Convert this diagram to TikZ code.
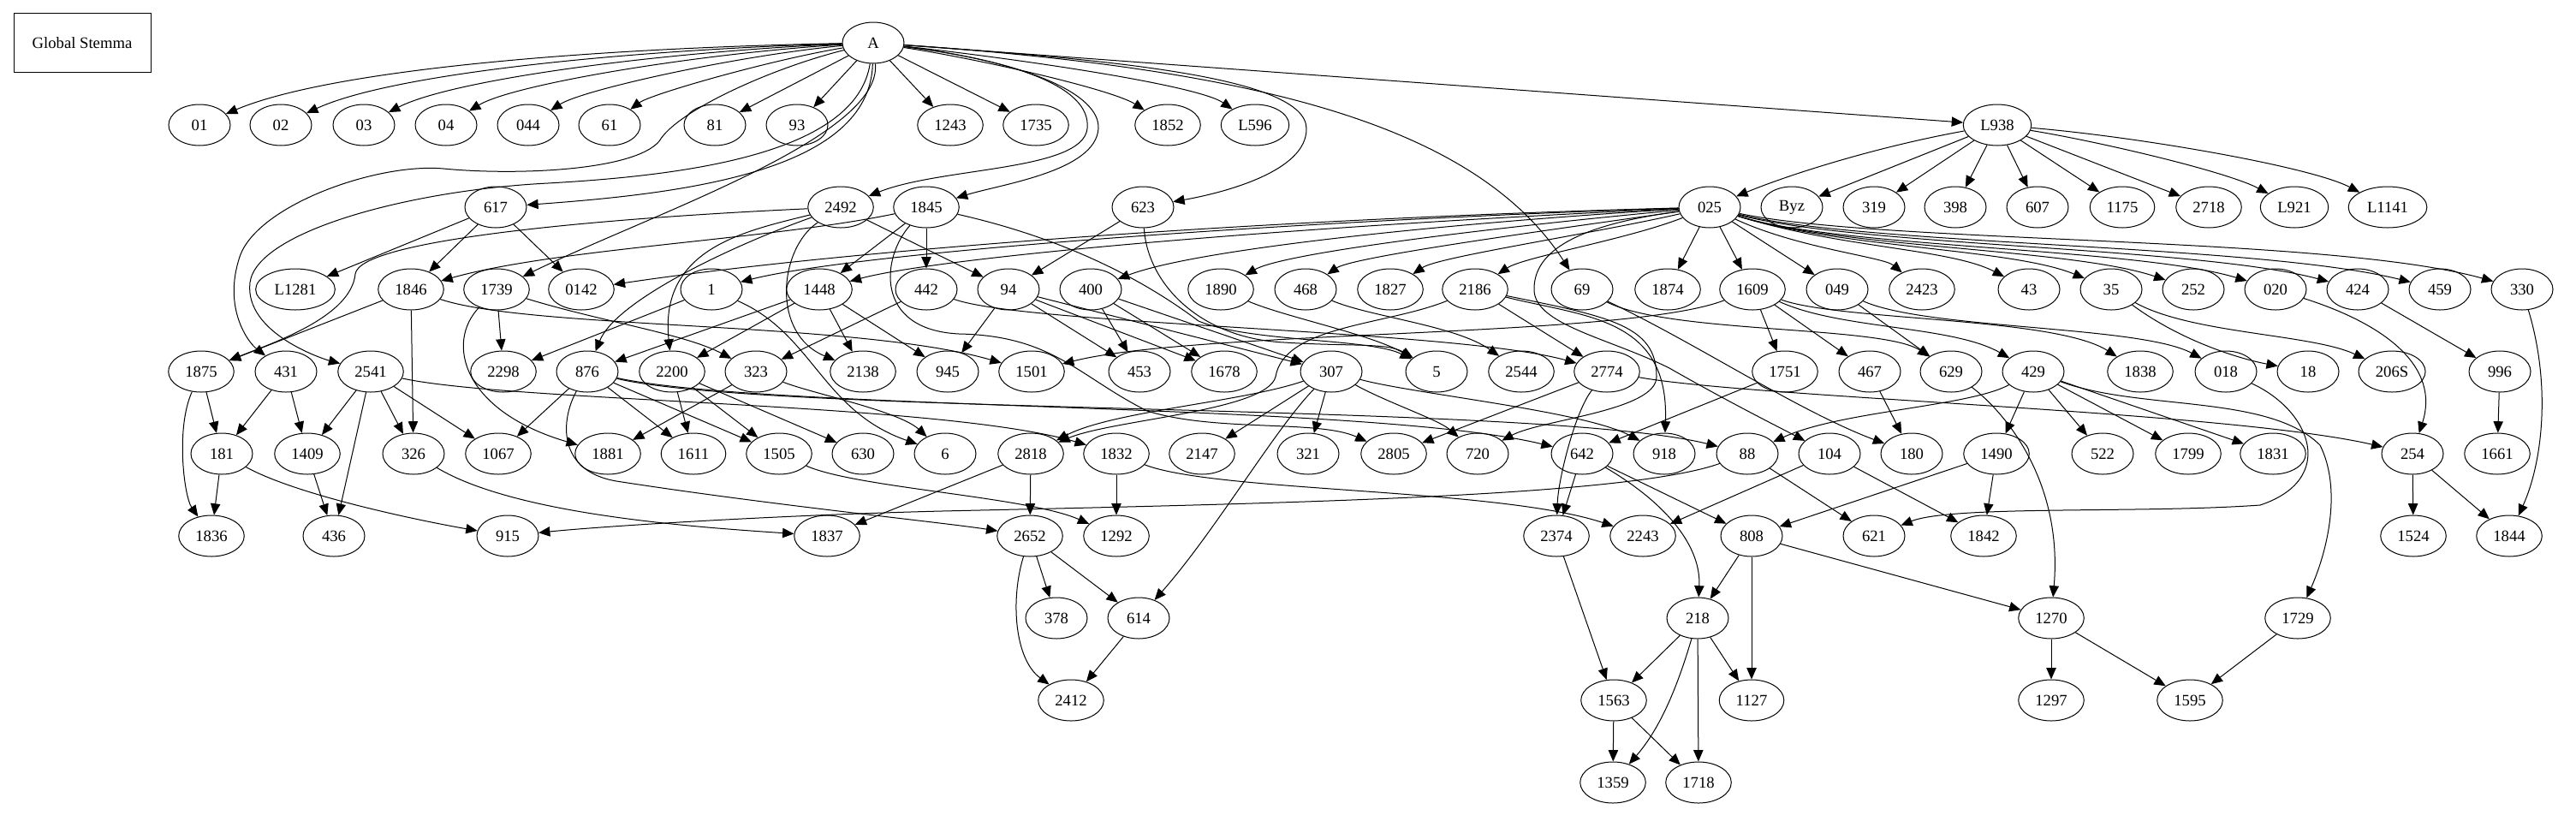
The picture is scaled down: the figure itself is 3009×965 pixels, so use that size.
\documentclass[tikz,border=0pt]{standalone}
\usepackage{fontspec}
\setmainfont{Liberation Serif}
\usetikzlibrary{shapes.geometric,arrows.meta}
\begin{document}
\begin{tikzpicture}[x=0.75pt,y=-0.75pt,
  n/.style={ellipse,draw,line width=0.75pt,minimum width=54pt,minimum height=36pt,inner xsep=6.3pt,inner ysep=2pt,font=\fontsize{14}{16}\selectfont},
  e/.style={line width=0.75pt,-{Triangle[length=10pt,width=8.5pt]}}]
\useasboundingbox (0,0) rectangle (3009,965);
\node[draw,rectangle,line width=0.75pt,minimum width=120pt,minimum height=52pt,font=\fontsize{14}{16}\selectfont] (gs) at (96,50) {Global Stemma};
% row 0
\node[n] (nA) at (1020,50) {A};
% row 1
\foreach \nm/\xx in {01/233,02/328,03/425,04/521,044/617,61/712,81/835,93/931,1243/1110,1735/1210,1852/1364,L596/1466,L938/2333}
  \node[n] (n\nm) at (\xx,146) {\nm};
% row 2
\foreach \nm/\xx in {617/579,2492/982,1845/1082,623/1335,025/1997,Byz/2093,319/2189,398/2284,607/2380,1175/2479,2718/2580,L921/2680,L1141/2789}
  \node[n] (n\nm) at (\xx,242) {\nm};
% row 3
\foreach \nm/\xx in {L1281/345,1846/480,1739/580,0142/679,1/831,1448/957,442/1082,94/1178,400/1274,1890/1426,468/1525,1827/1624,2186/1723,69/1848,1874/1948,1609/2047,049/2146,2423/2245,43/2370,35/2466,252/2562,020/2658,424/2754,459/2850,330/2946}
  \node[n] (n\nm) at (\xx,338) {\nm};
% row 4
\foreach \nm/\xx in {1875/235,431/334,2541/433,2298/588,876/686,2200/785,323/883,2138/1008,945/1107,1501/1205,453/1331,1678/1430,307/1555,5/1678,2544/1777,2774/1877,1751/2085,467/2184,629/2279,429/2375,1838/2500,018/2600,18/2696,206S/2794,996/2920}
  \node[n] (n\nm) at (\xx,434) {\nm};
% row 5
\foreach \nm/\xx in {181/259,1409/359,326/483,1067/582,1881/710,1611/810,1505/910,630/1008,6/1104,2818/1204,1832/1304,2147/1404,321/1528,2805/1628,720/1726,642/1848,918/1944,88/2041,104/2137,180/2233,1490/2332,522/2456,1799/2556,1831/2655,254/2818,1661/2917}
  \node[n] (n\nm) at (\xx,530) {\nm};
% row 6
\foreach \nm/\xx in {1836/247,436/390,915/593,1837/966,2652/1203,1292/1304,2374/1818,2243/1919,808/2046,621/2189,1842/2317,1524/2819,1844/2931}
  \node[n] (n\nm) at (\xx,626) {\nm};
% row 7
\foreach \nm/\xx in {378/1234,614/1330,218/1983,1270/2396,1729/2684}
  \node[n] (n\nm) at (\xx,722) {\nm};
% row 8
\foreach \nm/\xx in {2412/1251,1563/1885,1127/2046,1297/2396,1595/2558}
  \node[n] (n\nm) at (\xx,818) {\nm};
% row 9
\foreach \nm/\xx in {1359/1884,1718/1984}
  \node[n] (n\nm) at (\xx,914) {\nm};

% ---- edges from A
\draw[e] (nA) .. controls (700,56) and (390,80) .. (n01);
\draw[e] (nA) .. controls (740,58) and (460,85) .. (n02);
\draw[e] (nA) .. controls (780,60) and (530,92) .. (n03);
\draw[e] (nA) .. controls (820,62) and (600,98) .. (n04);
\draw[e] (nA) .. controls (860,65) and (680,105) .. (n044);
\draw[e] (nA) .. controls (900,70) and (760,110) .. (n61);
\draw[e] (nA) -- (n81);
\draw[e] (nA) -- (n93);
\draw[e] (nA) -- (n1243);
\draw[e] (nA) -- (n1735);
\draw[e] (nA) .. controls (1150,70) and (1300,105) .. (n1852);
\draw[e] (nA) .. controls (1200,70) and (1400,100) .. (nL596);
\draw[e] (nA) -- (nL938);
\draw[e] (nA) .. controls (1016,200) and (800,226) .. (n617);
\draw[e] (nA) .. controls (1031,160) and (760,250) .. (n1739);
\draw[e] (nA) .. controls (1000,180) and (800,205) .. (640,214) .. controls (480,222) and (300,270) .. (292,330) .. controls (285,390) and (380,420) .. (n2541);
\draw[e] (nA) .. controls (900,80) and (790,130) .. (770,165) .. controls (740,200) and (600,205) .. (518,197) .. controls (440,190) and (300,240) .. (280,300) .. controls (260,360) and (290,400) .. (n431);
\draw[e] (nA) .. controls (1180,70) and (1275,100) .. (1270,150) .. controls (1265,200) and (1100,195) .. (n2492);
\draw[e] (nA) .. controls (1200,72) and (1285,110) .. (1283,150) .. controls (1280,200) and (1170,215) .. (n1845);
\draw[e] (nA) .. controls (1300,70) and (1525,90) .. (1526,150) .. controls (1527,200) and (1430,225) .. (n623);
\draw[e] (nA) .. controls (1450,80) and (1720,140) .. (n69);

% ---- L938
\draw[e] (nL938) .. controls (2200,170) and (2100,200) .. (n025);
\draw[e] (nL938) -- (nByz);
\draw[e] (nL938) -- (n319);
\draw[e] (nL938) -- (n398);
\draw[e] (nL938) -- (n607);
\draw[e] (nL938) -- (n1175);
\draw[e] (nL938) -- (n2718);
\draw[e] (nL938) .. controls (2450,165) and (2600,200) .. (nL921);
\draw[e] (nL938) .. controls (2500,160) and (2700,195) .. (nL1141);

% ---- row 2 sources
\draw[e] (n617) -- (nL1281);
\draw[e] (n617) -- (n1846);
\draw[e] (n617) -- (n0142);
\draw[e] (n2492) -- (n94);
\draw[e] (n2492) .. controls (910,290) and (900,390) .. (n2138);
\draw[e] (n2492) .. controls (870,270) and (770,290) .. (n2200);
\draw[e] (n2492) .. controls (860,285) and (720,350) .. (n876);
\draw[e] (n2492) .. controls (700,255) and (420,280) .. (415,320) .. controls (410,370) and (320,400) .. (n1875);
\draw[e] (n1845) .. controls (900,280) and (650,290) .. (n1846);
\draw[e] (n1845) -- (n1448);
\draw[e] (n1845) -- (n442);
\draw[e] (n1845) .. controls (1030,300) and (1020,385) .. (1120,390) .. controls (1230,392) and (1260,440) .. (1340,480) .. controls (1420,505) and (1540,490) .. (n2805);
\draw[e] (n1845) .. controls (1250,280) and (1340,330) .. (1400,375) .. controls (1460,400) and (1600,395) .. (n5);
\draw[e] (n623) -- (n94);
\draw[e] (n623) .. controls (1340,330) and (1400,395) .. (1500,400) .. controls (1580,405) and (1620,400) .. (n5);
\draw[e] (n025) .. controls (1500,255) and (1000,290) .. (n0142);
\draw[e] (n025) .. controls (1500,258) and (1000,295) .. (n1);
\draw[e] (n025) .. controls (1500,265) and (1100,300) .. (n1448);
\draw[e] (n025) .. controls (1700,260) and (1400,290) .. (n400);
\draw[e] (n025) .. controls (1750,265) and (1500,295) .. (n1890);
\draw[e] (n025) .. controls (1800,270) and (1580,300) .. (n468);
\draw[e] (n025) .. controls (1850,275) and (1680,300) .. (n1827);
\draw[e] (n025) .. controls (1900,280) and (1780,300) .. (n2186);
\draw[e] (n025) -- (n1874);
\draw[e] (n025) -- (n1609);
\draw[e] (n025) -- (n049);
\draw[e] (n025) .. controls (2100,290) and (2200,300) .. (n2423);
\draw[e] (n025) .. controls (2150,290) and (2277,290) .. (n43);
\draw[e] (n025) .. controls (2150,290) and (2350,290) .. (n35);
\draw[e] (n025) .. controls (2150,290) and (2420,290) .. (n252);
\draw[e] (n025) .. controls (2150,290) and (2494,289) .. (n020);
\draw[e] (n025) .. controls (2170,288) and (2566,288) .. (n424);
\draw[e] (n025) .. controls (2180,287) and (2637,285) .. (n459);
\draw[e] (n025) .. controls (2200,285) and (2720,275) .. (n330);
\draw[e] (n025) .. controls (1850,262) and (1790,290) .. (1792,340) .. controls (1795,380) and (1880,395) .. (1950,430) .. controls (2020,470) and (2080,500) .. (n104);

% ---- row 3 sources
\draw[e] (n1846) -- (n1875);
\draw[e] (n1846) -- (n326);
\draw[e] (n1846) .. controls (620,385) and (1000,375) .. (n1501);
\draw[e] (n1739) -- (n2298);
\draw[e] (n1739) .. controls (700,375) and (800,390) .. (n323);
\draw[e] (n1739) .. controls (520,400) and (540,480) .. (n1881);
\draw[e] (n1) -- (n2298);
\draw[e] (n1) .. controls (950,390) and (960,480) .. (n6);
\draw[e] (n1448) -- (n876);
\draw[e] (n1448) -- (n2200);
\draw[e] (n1448) -- (n2138);
\draw[e] (n1448) -- (n945);
\draw[e] (n442) -- (n323);
\draw[e] (n442) .. controls (1200,380) and (1700,385) .. (n2774);
\draw[e] (n94) -- (n945);
\draw[e] (n94) -- (n453);
\draw[e] (n94) -- (n1678);
\draw[e] (n94) -- (n307);
\draw[e] (n400) -- (n453);
\draw[e] (n400) -- (n1678);
\draw[e] (n400) -- (n307);
\draw[e] (n1890) .. controls (1500,370) and (1600,390) .. (n5);
\draw[e] (n468) .. controls (1600,370) and (1700,380) .. (n2544);
\draw[e] (n2186) -- (n2774);
\draw[e] (n2186) .. controls (1850,370) and (1950,370) .. (n918);
\draw[e] (n2186) .. controls (1880,370) and (1935,380) .. (1935,440) .. controls (1935,480) and (1800,490) .. (n720);
\draw[e] (n2186) .. controls (1620,380) and (1500,380) .. (1490,440) .. controls (1480,480) and (1300,490) .. (n2818);
\draw[e] (n69) .. controls (1950,390) and (2200,380) .. (n629);
\draw[e] (n69) .. controls (1980,400) and (2100,480) .. (n180);
\draw[e] (n1609) -- (n1751);
\draw[e] (n1609) -- (n467);
\draw[e] (n1609) .. controls (1900,395) and (1400,385) .. (n1501);
\draw[e] (n1609) .. controls (2150,385) and (2280,380) .. (n429);
\draw[e] (n1609) .. controls (2150,375) and (2400,370) .. (n1838);
\draw[e] (n049) -- (n629);
\draw[e] (n049) .. controls (2250,385) and (2500,380) .. (n018);
\draw[e] (n35) .. controls (2550,400) and (2620,420) .. (n18);
\draw[e] (n35) .. controls (2560,390) and (2700,390) .. (n206S);
\draw[e] (n020) .. controls (2790,380) and (2850,430) .. (n254);
\draw[e] (n424) -- (n996);
\draw[e] (n330) .. controls (2980,450) and (2970,540) .. (n1844);

% ---- row 4 sources
\draw[e] (n1875) -- (n181);
\draw[e] (n1875) .. controls (205,500) and (215,580) .. (n1836);
\draw[e] (n431) -- (n181);
\draw[e] (n431) -- (n1409);
\draw[e] (n2541) -- (n1409);
\draw[e] (n2541) -- (n326);
\draw[e] (n2541) -- (n1067);
\draw[e] (n2541) -- (n436);
\draw[e] (n2541) .. controls (600,470) and (1100,470) .. (n1832);
\draw[e] (n876) -- (n1067);
\draw[e] (n876) -- (n1611);
\draw[e] (n876) -- (n1505);
\draw[e] (n876) .. controls (655,490) and (650,550) .. (720,562) .. controls (900,590) and (1100,610) .. (n2652);
\draw[e] (n876) .. controls (900,480) and (1600,470) .. (n642);
\draw[e] (n876) .. controls (900,485) and (1800,470) .. (n88);
\draw[e] (n2200) -- (n1611);
\draw[e] (n2200) -- (n1505);
\draw[e] (n2200) -- (n630);
\draw[e] (n323) -- (n1881);
\draw[e] (n323) .. controls (950,460) and (1050,480) .. (n6);
\draw[e] (n307) .. controls (1450,470) and (1300,480) .. (n2818);
\draw[e] (n307) -- (n2147);
\draw[e] (n307) -- (n321);
\draw[e] (n307) .. controls (1490,500) and (1420,620) .. (n614);
\draw[e] (n307) .. controls (1620,470) and (1680,490) .. (n720);
\draw[e] (n307) .. controls (1650,460) and (1850,480) .. (n918);
\draw[e] (n2774) -- (n2805);
\draw[e] (n2774) .. controls (1840,480) and (1820,560) .. (n2374);
\draw[e] (n2774) .. controls (2050,465) and (2600,480) .. (n254);
\draw[e] (n1751) -- (n642);
\draw[e] (n467) -- (n180);
\draw[e] (n629) .. controls (2340,480) and (2410,560) .. (n1270);
\draw[e] (n429) -- (n1490);
\draw[e] (n429) -- (n522);
\draw[e] (n429) -- (n1799);
\draw[e] (n429) -- (n1831);
\draw[e] (n429) .. controls (2300,475) and (2150,480) .. (n88);
\draw[e] (n429) .. controls (2500,480) and (2650,460) .. (2710,520) .. controls (2735,570) and (2720,640) .. (n1729);
\draw[e] (n018) .. controls (2700,480) and (2730,560) .. (2640,590) .. controls (2500,600) and (2280,590) .. (n621);
\draw[e] (n996) -- (n1661);
\draw[e] (n254) -- (n1524);
\draw[e] (n254) -- (n1844);

% ---- row 5 sources
\draw[e] (n181) -- (n1836);
\draw[e] (n181) .. controls (350,580) and (500,610) .. (n915);
\draw[e] (n1409) -- (n436);
\draw[e] (n326) .. controls (600,600) and (800,615) .. (n1837);
\draw[e] (n1505) .. controls (1000,570) and (1200,580) .. (n1292);
\draw[e] (n2818) -- (n2652);
\draw[e] (n2818) -- (n1837);
\draw[e] (n1832) -- (n1292);
\draw[e] (n1832) .. controls (1420,575) and (1750,570) .. (n2243);
\draw[e] (n642) -- (n2374);
\draw[e] (n642) -- (n808);
\draw[e] (n642) .. controls (1950,590) and (1987,640) .. (n218);
\draw[e] (n88) -- (n621);
\draw[e] (n88) .. controls (1900,580) and (1500,588) .. (1100,597) .. controls (900,602) and (700,615) .. (n915);
\draw[e] (n104) -- (n2243);
\draw[e] (n104) -- (n1842);
\draw[e] (n1490) -- (n808);
\draw[e] (n1490) -- (n1842);

% ---- lower rows
\draw[e] (n2652) -- (n378);
\draw[e] (n2652) -- (n614);
\draw[e] (n2652) .. controls (1180,700) and (1185,770) .. (n2412);
\draw[e] (n2374) -- (n1563);
\draw[e] (n808) -- (n218);
\draw[e] (n808) -- (n1127);
\draw[e] (n808) -- (n1270);
\draw[e] (n614) -- (n2412);
\draw[e] (n218) -- (n1563);
\draw[e] (n218) -- (n1127);
\draw[e] (n218) -- (n1718);
\draw[e] (n218) .. controls (1960,800) and (1940,850) .. (n1359);
\draw[e] (n1270) -- (n1297);
\draw[e] (n1270) -- (n1595);
\draw[e] (n1729) -- (n1595);
\draw[e] (n1563) -- (n1359);
\draw[e] (n1563) -- (n1718);
\end{tikzpicture}
\end{document}
